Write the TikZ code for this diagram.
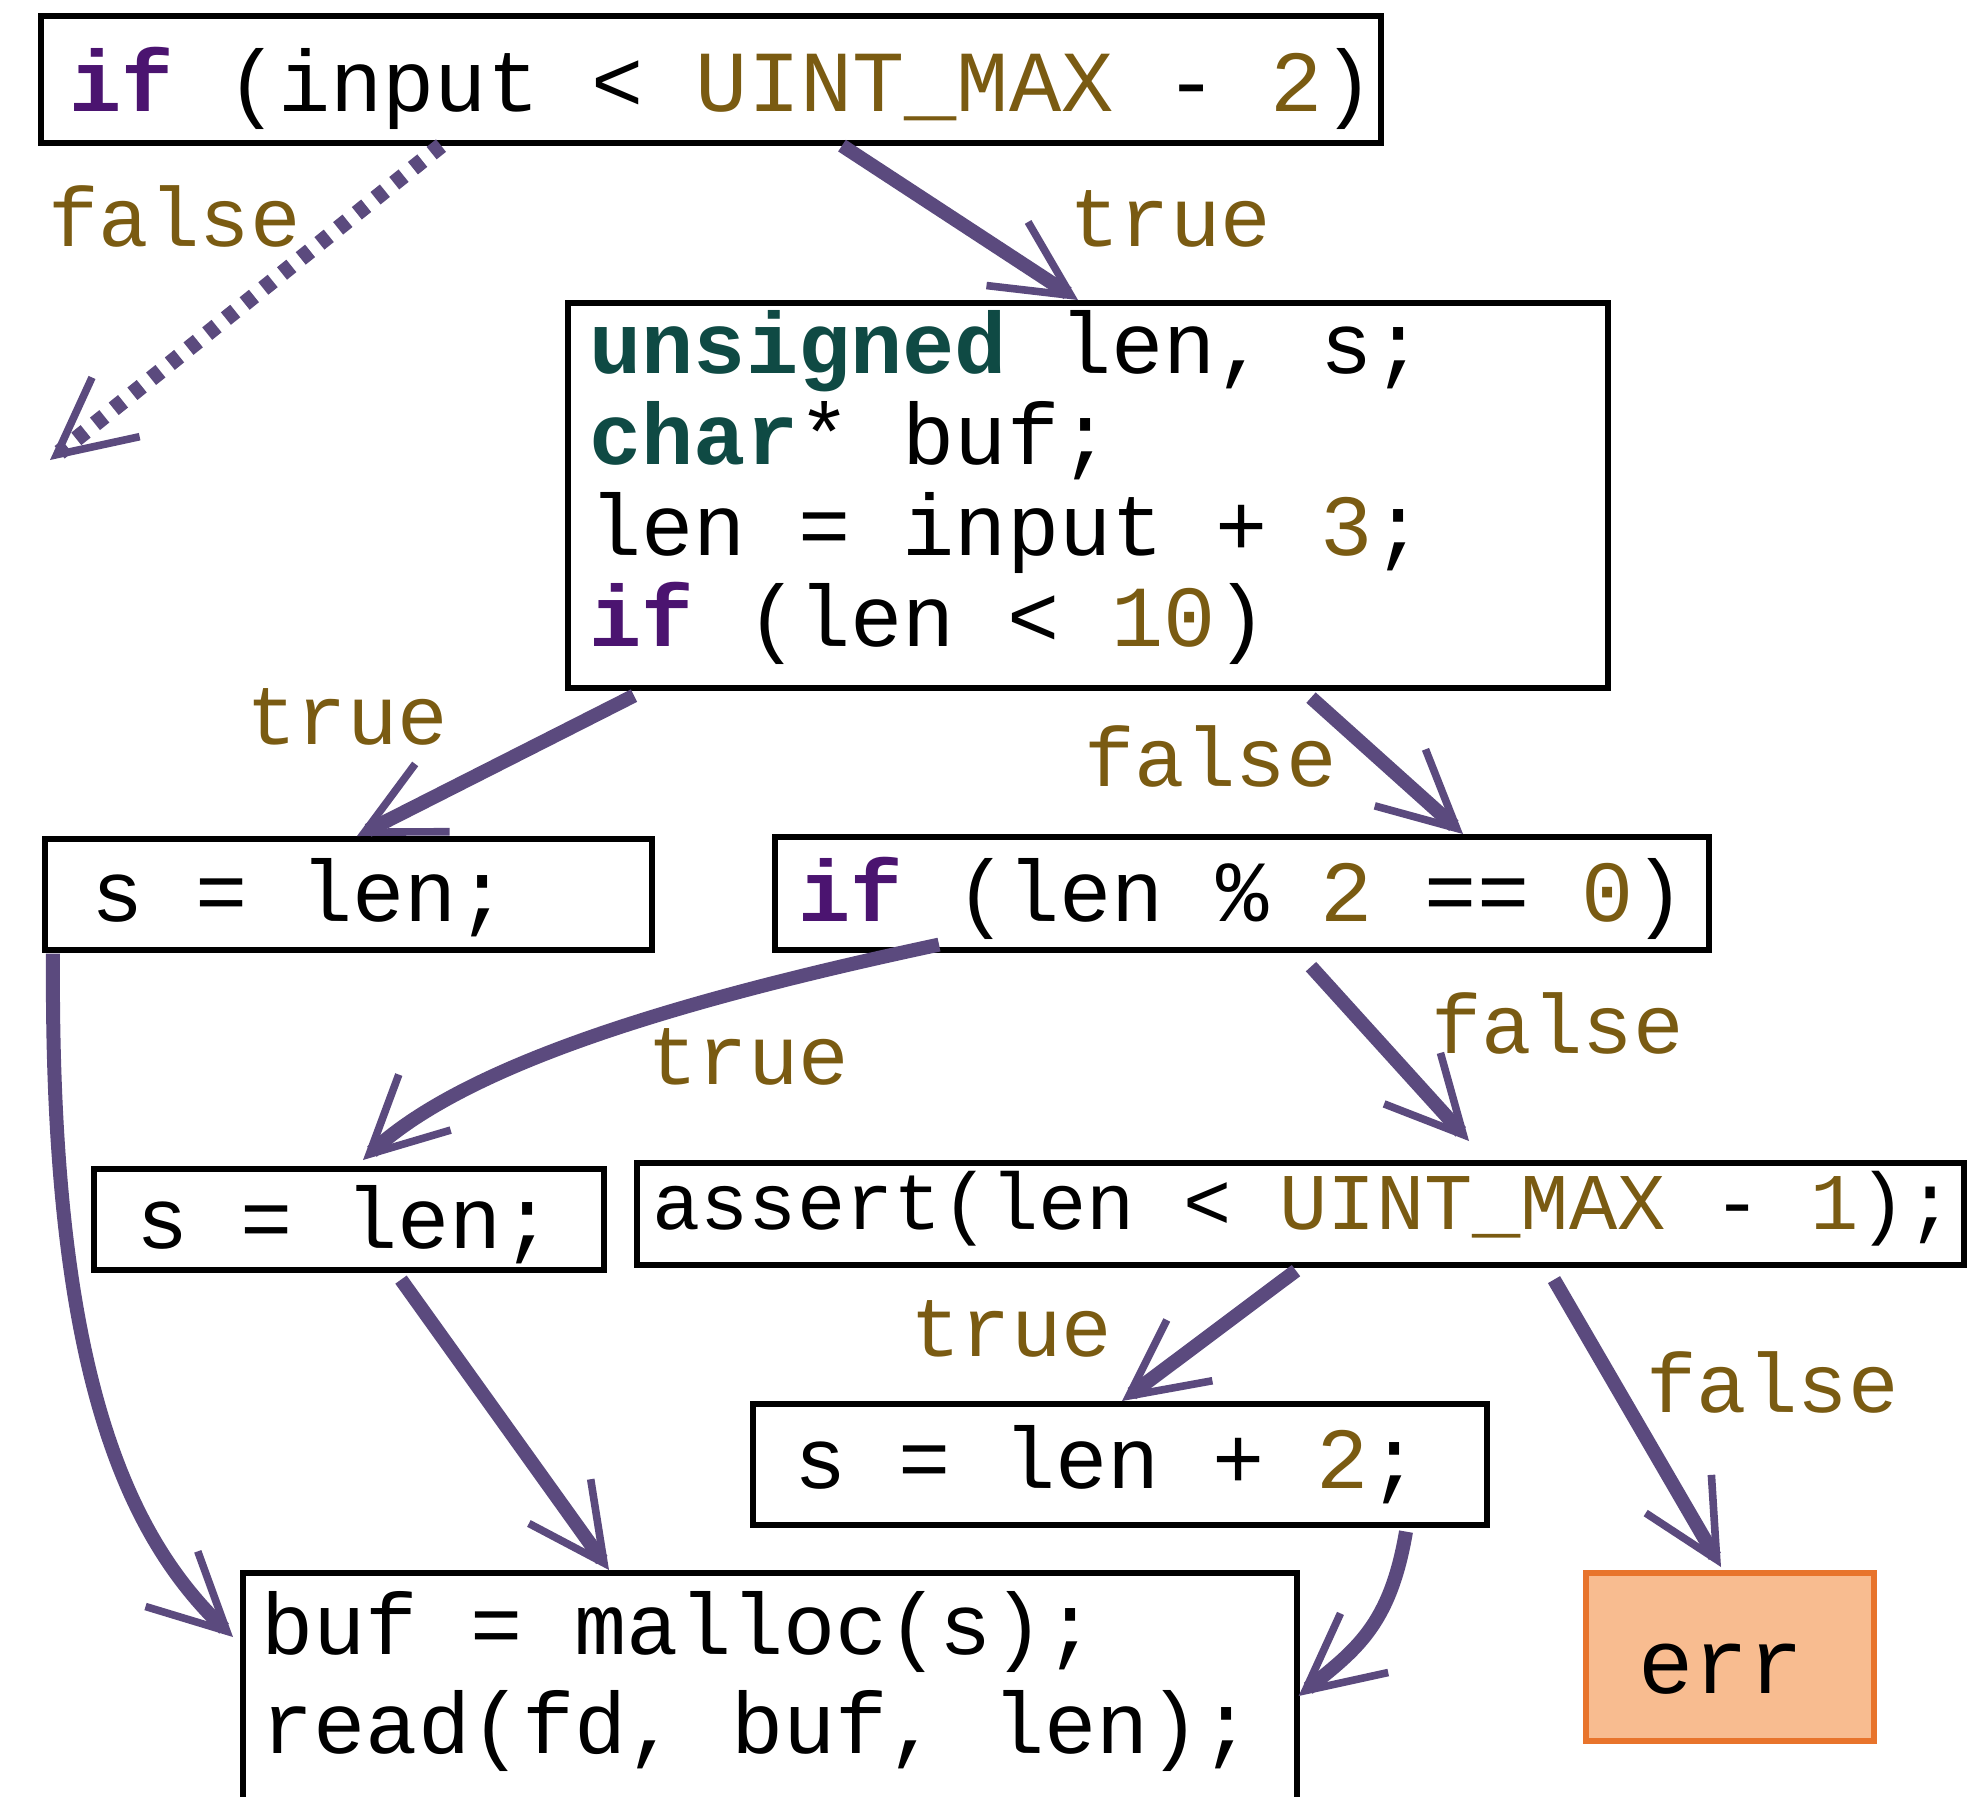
\documentclass[tikz,border=0pt]{standalone}
\usepackage{fontspec}
\newfontfamily\cmono{Liberation Mono}
\usetikzlibrary{arrows.meta,calc}
\definecolor{kw}{HTML}{4B1470}
\definecolor{ty}{HTML}{0F4A44}
\definecolor{num}{HTML}{7A5B12}
\definecolor{arr}{HTML}{5B4A7E}
\definecolor{errfill}{HTML}{F8BC90}
\definecolor{errdraw}{HTML}{E8742C}
\newcommand{\kwd}[1]{{\bfseries\color{kw}#1}}
\newcommand{\typ}[1]{{\bfseries\color{ty}#1}}
\newcommand{\nm}[1]{{\color{num}#1}}
\tikzset{
  box/.style={draw=black, line width=2.8pt, inner sep=0pt, anchor=north west},
  code/.style={anchor=base west, inner sep=0pt, align=left, font=\cmono\fontsize{43.5}{45.5}\selectfont},
  lab/.style={anchor=base west, inner sep=0pt, text=num, font=\cmono\fontsize{42}{44}\selectfont},
  flow/.style={draw=arr, line width=7pt, -{Straight Barb[length=38pt,width=38pt,line width=3.8pt]}},
  dotflow/.style={flow, line width=8pt, dash pattern=on 6pt off 6pt}
}
\begin{document}
\begin{tikzpicture}[x=0.5pt,y=-0.5pt]
\useasboundingbox (0,0) rectangle (1977,1796);
\clip (0,0) rectangle (1977,1796);
% boxes
\node[box, minimum width=670pt, minimum height=63.5pt] (top) at (38,13) {};
\node[box, minimum width=520pt, minimum height=192.5pt] (blk) at (565,300) {};
\node[box, minimum width=303.5pt, minimum height=55.5pt] (s1) at (42,836) {};
\node[box, minimum width=467pt, minimum height=56.5pt] (ifm) at (772,834) {};
\node[box, minimum width=255pt, minimum height=50.5pt] (s2) at (91,1166) {};
\node[box, minimum width=663.5pt, minimum height=51pt] (as) at (634,1160) {};
\node[box, minimum width=367pt, minimum height=60.5pt] (s3) at (750,1401) {};
\node[box, minimum width=527pt, minimum height=130pt] (buf) at (240,1570) {};
\node[box, draw=errdraw, fill=errfill, minimum width=144pt, minimum height=84pt] (err) at (1583,1570) {};
% texts
\node[code] (ttop) at (69,111) {\kwd{if} (input < \nm{UINT\_MAX} - \nm{2})};
\node[code] (tblk) at (589,646) {\typ{unsigned} len, s;\\\typ{char}* buf;\\len = input + \nm{3};\\\kwd{if} (len < \nm{10})};
\node[code] (ts1) at (91,921) {s = len;};
\node[code] (tifm) at (798,921) {\kwd{if} (len \% \nm{2} == \nm{0})};
\node[code] (ts2) at (136,1248) {s = len;};
\node[code, font=\cmono\fontsize{40.2}{42}\selectfont] (tas) at (652,1229) {assert(len < \nm{UINT\_MAX} - \nm{1});};
\node[code] (ts3) at (794,1488) {s = len + \nm{2};};
\node[code, font=\cmono\fontsize{43.5}{49.5}\selectfont] (tbuf) at (261,1753) {buf = malloc(s);\\read(fd, buf, len);};
\node[anchor=base, inner sep=0pt, font=\cmono\fontsize{46}{48}\selectfont] (terr) at (1721,1693) {err};
% labels
\node[lab] (l1) at (48,246) {false};
\node[lab] (l2) at (1069,246) {true};
\node[lab] (l3) at (246,744) {true};
\node[lab] (l4) at (1084,786) {false};
\node[lab] (l5) at (647,1084) {true};
\node[lab] (l6) at (1431,1053) {false};
\node[lab] (l7) at (910,1356) {true};
\node[lab] (l8) at (1646,1412) {false};
% connectors
\coordinate (falseend) at (50,460);
\draw[dotflow] ($(top.south west)+(403,0)$) -- (falseend);
\draw[flow] ($(top.south west)+(804,0)$) -- ($(blk.north west)+(513,0)$);
\draw[flow] ($(blk.south west)+(69,5)$) -- ($(s1.north west)+(315,0)$);
\draw[flow] ($(blk.south west)+(746,7)$) -- ($(ifm.north west)+(691,0)$);
\draw[flow] ($(ifm.south west)+(167,-8)$) .. controls +(-239,51) and +(107,-100) .. ($(s2.north west)+(272,-6)$);
\draw[flow] ($(ifm.south west)+(539,14)$) -- ($(as.north west)+(835,-19)$);
\draw[flow] ($(s1.south west)+(11,1)$) .. controls +(-3,402) and +(-113,-107) .. ($(buf.north west)+(-7,67)$);
\draw[flow] ($(s2.south west)+(310,7)$) -- ($(buf.north west)+(369,0)$);
\draw[flow] ($(as.south west)+(662,3)$) -- ($(s3.north west)+(372,0)$);
\draw[flow] ($(as.south west)+(920,12)$) -- ($(err.north west)+(138,-3)$);
\draw[flow] ($(s3.south west)+(656,4)$) .. controls +(-16,94) and +(57,-46) .. ($(buf.north east)+(-1,126)$);
\end{tikzpicture}
\end{document}
